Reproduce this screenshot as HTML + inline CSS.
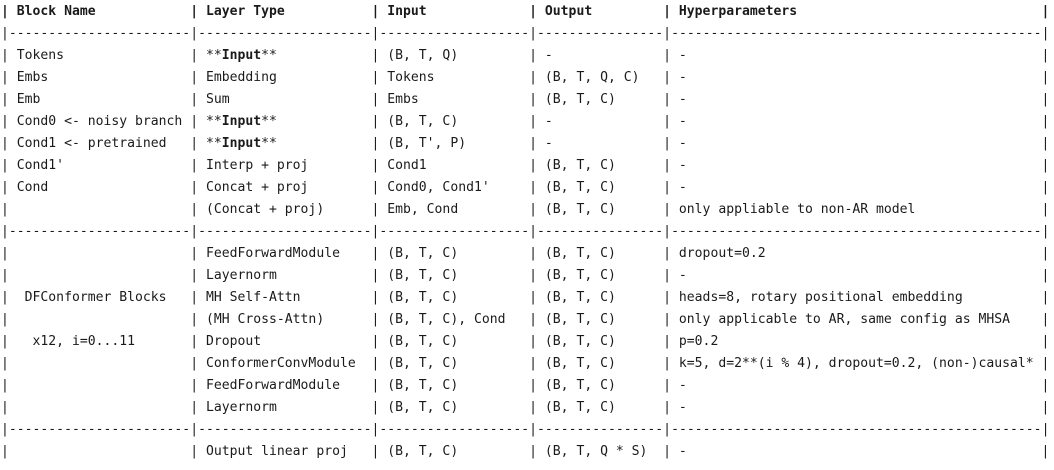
<!DOCTYPE html>
<html><head><meta charset="utf-8"><style>
html,body{margin:0;padding:0;background:#fff;}
body{width:1054px;height:470px;overflow:hidden;}
#t{position:absolute;left:1px;top:1px;font-family:"DejaVu Sans Mono","Liberation Mono",monospace;font-size:13.1px;line-height:22px;color:#1a1a1a;}
.r{height:22px;white-space:pre;}
.r span{display:inline-block;white-space:pre;}
.a{width:24ch}.b{width:23ch}.c{width:20ch}.d{width:17ch}.e{width:48ch}
.h{font-weight:bold}
b{font-weight:bold}
</style></head><body><div id="t"><div class="r h"><span class="a">| Block Name</span><span class="b">| Layer Type</span><span class="c">| Input</span><span class="d">| Output</span><span class="e">| Hyperparameters</span>|</div><div class="r">|-----------------------|----------------------|-------------------|----------------|-----------------------------------------------|</div><div class="r"><span class="a">| Tokens</span><span class="b">| **<b>Input</b>**</span><span class="c">| (B, T, Q)</span><span class="d">| -</span><span class="e">| -</span>|</div><div class="r"><span class="a">| Embs</span><span class="b">| Embedding</span><span class="c">| Tokens</span><span class="d">| (B, T, Q, C)</span><span class="e">| -</span>|</div><div class="r"><span class="a">| Emb</span><span class="b">| Sum</span><span class="c">| Embs</span><span class="d">| (B, T, C)</span><span class="e">| -</span>|</div><div class="r"><span class="a">| Cond0 &lt;- noisy branch</span><span class="b">| **<b>Input</b>**</span><span class="c">| (B, T, C)</span><span class="d">| -</span><span class="e">| -</span>|</div><div class="r"><span class="a">| Cond1 &lt;- pretrained</span><span class="b">| **<b>Input</b>**</span><span class="c">| (B, T', P)</span><span class="d">| -</span><span class="e">| -</span>|</div><div class="r"><span class="a">| Cond1'</span><span class="b">| Interp + proj</span><span class="c">| Cond1</span><span class="d">| (B, T, C)</span><span class="e">| -</span>|</div><div class="r"><span class="a">| Cond</span><span class="b">| Concat + proj</span><span class="c">| Cond0, Cond1'</span><span class="d">| (B, T, C)</span><span class="e">| -</span>|</div><div class="r"><span class="a">|</span><span class="b">| (Concat + proj)</span><span class="c">| Emb, Cond</span><span class="d">| (B, T, C)</span><span class="e">| only appliable to non-AR model</span>|</div><div class="r">|-----------------------|----------------------|-------------------|----------------|-----------------------------------------------|</div><div class="r"><span class="a">|</span><span class="b">| FeedForwardModule</span><span class="c">| (B, T, C)</span><span class="d">| (B, T, C)</span><span class="e">| dropout=0.2</span>|</div><div class="r"><span class="a">|</span><span class="b">| Layernorm</span><span class="c">| (B, T, C)</span><span class="d">| (B, T, C)</span><span class="e">| -</span>|</div><div class="r"><span class="a">|  DFConformer Blocks</span><span class="b">| MH Self-Attn</span><span class="c">| (B, T, C)</span><span class="d">| (B, T, C)</span><span class="e">| heads=8, rotary positional embedding</span>|</div><div class="r"><span class="a">|</span><span class="b">| (MH Cross-Attn)</span><span class="c">| (B, T, C), Cond</span><span class="d">| (B, T, C)</span><span class="e">| only applicable to AR, same config as MHSA</span>|</div><div class="r"><span class="a">|   x12, i=0...11</span><span class="b">| Dropout</span><span class="c">| (B, T, C)</span><span class="d">| (B, T, C)</span><span class="e">| p=0.2</span>|</div><div class="r"><span class="a">|</span><span class="b">| ConformerConvModule</span><span class="c">| (B, T, C)</span><span class="d">| (B, T, C)</span><span class="e">| k=5, d=2**(i % 4), dropout=0.2, (non-)causal*</span>|</div><div class="r"><span class="a">|</span><span class="b">| FeedForwardModule</span><span class="c">| (B, T, C)</span><span class="d">| (B, T, C)</span><span class="e">| -</span>|</div><div class="r"><span class="a">|</span><span class="b">| Layernorm</span><span class="c">| (B, T, C)</span><span class="d">| (B, T, C)</span><span class="e">| -</span>|</div><div class="r">|-----------------------|----------------------|-------------------|----------------|-----------------------------------------------|</div><div class="r"><span class="a">|</span><span class="b">| Output linear proj</span><span class="c">| (B, T, C)</span><span class="d">| (B, T, Q * S)</span><span class="e">| -</span>|</div></div></body></html>
